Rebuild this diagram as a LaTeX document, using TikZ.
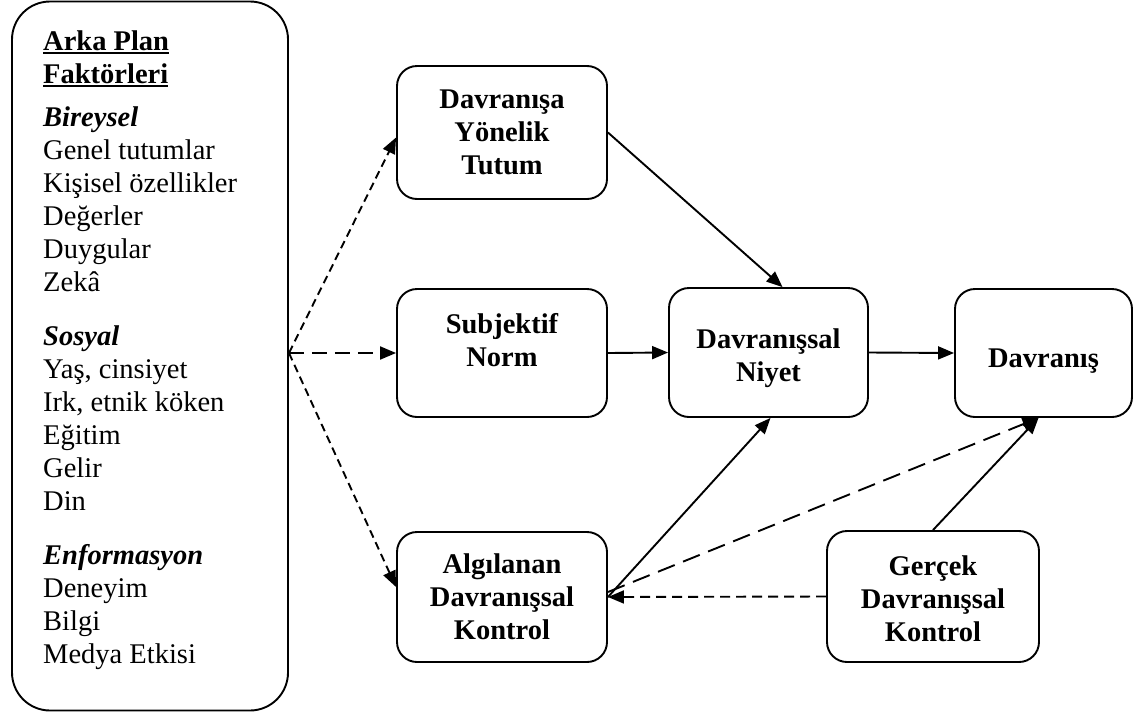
\documentclass[tikz,border=0pt]{standalone}
\usepackage{fontspec}
\setmainfont{Liberation Serif}
\usetikzlibrary{arrows.meta,calc}
\newcommand\myuline[1]{\setbox0\hbox{#1}\rlap{\rule[-4pt]{\wd0}{1.8pt}}\box0}
\begin{document}
\begin{tikzpicture}[x=1pt,y=-1pt,
  rbox/.style={draw,line width=1.9pt,rounded corners=20pt,inner sep=0pt},
  btxt/.style={align=center,font=\fontsize{28.5}{33}\selectfont\bfseries,inner sep=0pt},
  arr/.style={line width=1.9pt,-{Triangle[length=16pt,width=13pt]}},
  dshort/.style={dash pattern=on 8pt off 5pt},
  dmid/.style={dash pattern=on 15pt off 8pt},
  dlong/.style={dash pattern=on 18pt off 9pt},
  dhor/.style={dash pattern=on 10pt off 6pt}]
\useasboundingbox (0,0) rectangle (1140,718);
\fill[white] (0,0) rectangle (1140,718);

% left background-factor box
\node[draw,line width=1.9pt,rounded corners=38pt,minimum width=276pt,minimum height=709pt,inner sep=0pt] (bg) at (150,356) {};
\node[anchor=base west,inner sep=0pt] (lt) at (43,50) {\parbox[t]{240pt}{\raggedright\fontsize{28.5}{33}\selectfont
\textbf{\myuline{Arka Plan}}\\
\textbf{\myuline{Faktörleri}}\\[10pt]
\textbf{\textit{Bireysel}}\\
Genel tutumlar\\
Kişisel özellikler\\
Değerler\\
Duygular\\
Zekâ\\[21pt]
\textbf{\textit{Sosyal}}\\
Yaş, cinsiyet\\
Irk, etnik köken\\
Eğitim\\
Gelir\\
Din\\[21pt]
\textbf{\textit{Enformasyon}}\\
Deneyim\\
Bilgi\\
Medya Etkisi}};

% boxes
\node[rbox,minimum width=210pt,minimum height=133pt] (tu) at (502,132.5) {};
\node[rbox,minimum width=210pt,minimum height=128pt] (sn) at (502,353) {};
\node[rbox,minimum width=210pt,minimum height=130pt] (al) at (502,597) {};
\node[rbox,minimum width=199pt,minimum height=129pt] (ni) at (768.5,352.5) {};
\node[rbox,minimum width=177pt,minimum height=128pt] (dv) at (1043.5,353) {};
\node[rbox,minimum width=212pt,minimum height=131pt] (gc) at (933,596.5) {};

% texts
\node[btxt] (tuT) at (tu.center) {Davranışa\\Yönelik\\Tutum};
\node[btxt] (snT) at ([yshift=13pt]sn.center) {Subjektif\\Norm};
\node[btxt] (alT) at (al.center) {Algılanan\\Davranışsal\\Kontrol};
\node[btxt] (niT) at ([yshift=-5.5pt]ni.center) {Davranışsal\\Niyet};
\node[btxt] (dvT) at ([yshift=-8pt]dv.center) {Davranış};
\node[btxt] (gcT) at ([yshift=-2pt]gc.center) {Gerçek\\Davranışsal\\Kontrol};

% left dashed arrows
\coordinate (src) at (bg.east |- sn.west);
\draw[arr,dshort] (src) -- ([yshift=-5pt]tu.west);
\draw[arr,dmid] (src) -- (sn.west);
\draw[arr,dshort] (src) -- ([yshift=10pt]al.west);

% solid arrows
\draw[arr] (tu.east) -- ([xshift=14pt]ni.north);
\draw[arr] (sn.east) -- (ni.west);
\draw[arr] (ni.east) -- (dv.west);
\draw[arr] (al.east) -- ([xshift=2pt]ni.south);
\draw[arr] (gc.north) -- ([xshift=-5pt]dv.south);

% dashed arrows at bottom
\draw[arr,dlong] ([yshift=5pt]al.east) -- ([xshift=-5pt]dv.south);
\draw[arr,dhor] (gc.west) -- (al.east);
\end{tikzpicture}
\end{document}
